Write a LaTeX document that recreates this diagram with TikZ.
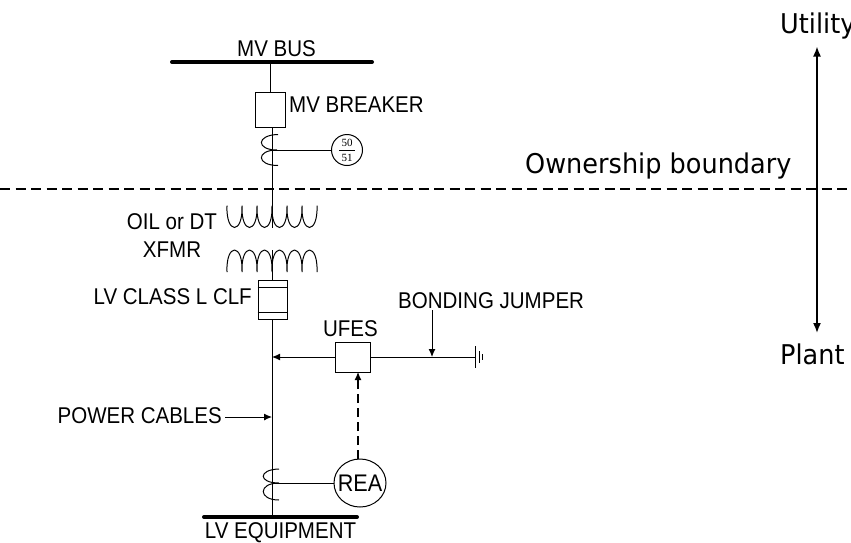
\documentclass[tikz,border=0pt]{standalone}
\usepackage{fontspec}
\setmainfont[FakeStretch=0.9]{Liberation Sans}
\newfontfamily\lucfont[FakeStretch=0.94]{DejaVu Sans}
\newfontfamily\serfont{Liberation Serif}
\usetikzlibrary{arrows.meta,shapes.geometric}
\tikzset{
  x=1pt,y=-1pt,
  wire/.style={line width=1pt,black},
  bus/.style={line width=4pt,line cap=round,black},
  lbl/.style={font=\fontsize{22.8}{22.8}\selectfont,inner sep=0pt,text=black},
  big/.style={font=\lucfont\fontsize{27.2}{27.2}\selectfont,inner sep=0pt,text=black,anchor=base west},
  relnum/.style={font=\serfont\fontsize{11}{11}\selectfont,inner sep=0pt},
  devbox/.style={draw,line width=1pt,fill=white,inner sep=0pt,minimum width=#1},
  tip/.style={-{Latex[length=8pt,width=7pt]}},
}
\newcommand{\scallops}[5]{% x0, y-top, step, depth, count
  \draw[line width=1pt] (#1,#2)
  \foreach \i in {1,...,#5}{ .. controls ({#1+(\i-1)*#3-0.08*#3},{#2+#4*1.33}) and ({#1+\i*#3+0.08*#3},{#2+#4*1.33}) .. ({#1+\i*#3},#2) };
}
\begin{document}
\begin{tikzpicture}
\clip (0,0) rectangle (851,542);
\useasboundingbox (0,0) rectangle (851,542);
\fill[white] (0,0) rectangle (851,542);
% boundary
\coordinate (bl) at (0,189);
\coordinate (br) at (851,189);
\draw[line width=1.5pt,dash pattern=on 10pt off 5.5pt] (bl) -- (br);
% nodes
\coordinate (busL) at (172,62);
\coordinate (busR) at (372,62);
\coordinate (busT) at (270,62);
\draw[bus] (busL) -- (busR);
\node[lbl] (mvbus) at (276.5,49) {MV BUS};
\node[devbox=30pt,minimum height=35pt] (brk) at (270,109.5) {};
\node[lbl,anchor=west] (mvbrk) at (289,105) {MV BREAKER};
\draw[wire] (busT) -- (brk.north);
% CT 1
\coordinate (ct1) at (277,150);
\coordinate (brkb) at (272,127);
\coordinate (xp) at (272,228);
\draw[wire] (brkb) -- (xp);
\draw[wire] (278,134.5) .. controls (256,135) and (256,150) .. (ct1) .. controls (256,150) and (256,165.5) .. (278,165.5);
\node[draw,circle,line width=1pt,minimum size=31pt,inner sep=0pt] (rel) at (347,150) {};
\node[relnum] at (347,142.5) {50};
\node[relnum] at (347,157.5) {51};
\draw[line width=.6pt] (339,150) -- (355,150);
\draw[wire] (272,150) -- (rel);
% transformer
\scallops{227}{205.5}{15}{22}{6}
\begin{scope}[yscale=-1]
\scallops{227}{-272}{15}{22}{6}
\end{scope}
\node[lbl,align=center] (oil) at (172,222) {OIL or DT};
\node[lbl] (xfmr) at (172,250) {XFMR};
% fuse
\node[devbox=29pt,minimum height=39pt] (clf) at (272.5,299.5) {};
\coordinate (xs) at (272,250);
\draw[wire] (xs) -- (clf.north -| xs);
\draw[wire] (clf.north west) ++(0,8) -- ++(29,0);
\draw[wire] (clf.south west) ++(0,-7) -- ++(29,0);
\node[lbl,anchor=east] (clfl) at (252,297) {LV CLASS L CLF};
% main LV
\coordinate (lvb) at (272,517);
\coordinate (clfb) at (272,319);
\draw[wire] (clfb) -- (lvb);
\coordinate (lvL) at (204,517);
\coordinate (lvR) at (357,517);
\draw[bus] (lvL) -- (lvR);
\node[lbl] (lveq) at (280.5,532.5) {LV EQUIPMENT};
% UFES
\node[devbox=35pt,minimum height=30pt] (ufes) at (352.5,357) {};
\node[lbl] (ufesl) at (350.5,329) {UFES};
\coordinate (j1) at (272,357);
\draw[wire,tip] (ufes.west) -- (j1);
\coordinate (gnd) at (475,357);
\draw[wire] (ufes.east) -- (gnd);
\draw[wire] (475,346) -- (475,368);
\draw[wire] (479,351) -- (479,363);
\draw[wire] (482.5,354) -- (482.5,360);
\node[lbl,anchor=west] (bj) at (398,301) {BONDING JUMPER};
\coordinate (bjt) at (432,310);
\coordinate (bjb) at (432,357);
\draw[wire,tip] (bjt) -- (bjb);
% REA
\node[draw,ellipse,line width=1pt,minimum width=52pt,minimum height=48pt,inner sep=0pt] (rea) at (360,483) {};
\node[lbl,font=\fontsize{24}{24}\selectfont] (realbl) at (rea.center) {REA};
\coordinate (reat) at (358,459);
\coordinate (ufesb) at (358,372);
\draw[line width=1.1pt,dash pattern=on 9pt off 5pt,tip] (reat) -- (ufesb);
\coordinate (ct2) at (272,483);
\draw[wire] (279,469) .. controls (258,469.5) and (258,483) .. (279,483) .. controls (258,483) and (258,500) .. (279,500);
\draw[wire] (ct2) -- (rea);
% power cables
\node[lbl,anchor=east] (pc) at (222,416) {POWER CABLES};
\coordinate (pcj) at (272,417);
\draw[wire,tip] (pc.east) ++(3,1) -- (pcj);
% right
\node[big] (util) at (780,33) {Utility};
\node[big] (plant) at (780,364) {Plant};
\node[big] (own) at (525,173) {Ownership boundary};
\coordinate (at) at (817,46.5);
\coordinate (ab) at (817,333);
\draw[line width=1.6pt,{Latex[length=10pt,width=8pt]}-{Latex[length=10pt,width=8pt]}] (at) -- (ab);
\end{tikzpicture}
\end{document}
